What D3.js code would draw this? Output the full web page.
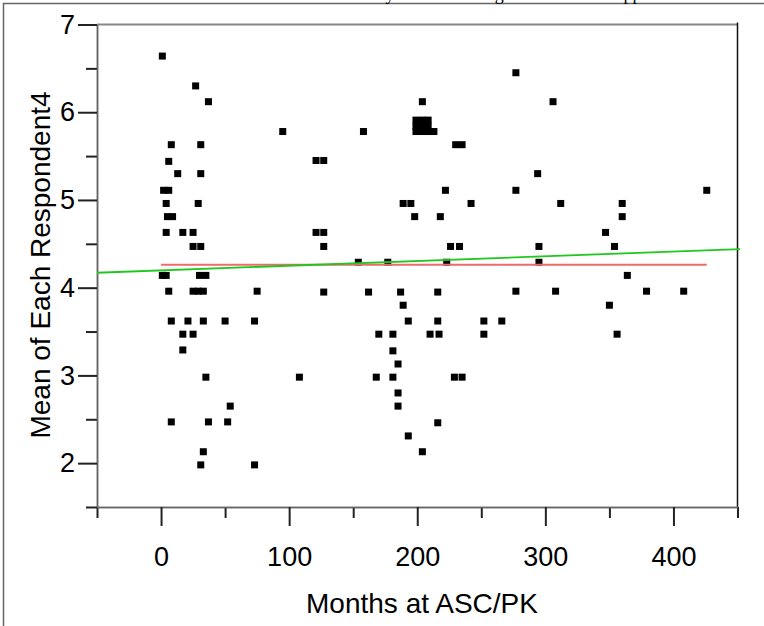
<!DOCTYPE html>
<html>
<head>
<meta charset="utf-8">
<script src="https://cdn.jsdelivr.net/npm/d3@7"></script>
<style>
  body { margin: 0; background: #fff; }
  svg { display: block; }
  text { font-family: "Liberation Sans", Arial, sans-serif; fill: #000; }
</style>
</head>
<body>
<svg id="chart" width="764" height="626"></svg>
<script>
// months at ASC/PK for each respondent
var months = [
    1, 27, 37, 95, 8, 31, 6, 13, 31, 2, 6, 4, 29, 5, 9, 4, 17, 25, 25, 31,
    1, 4, 30, 35, 6, 25, 29, 33, 75, 8, 21, 33, 50, 73, 17, 25, 17, 35, 54, 8,
    37, 52, 33, 31, 73,
    204, 199, 204, 208.5, 199, 204, 208.5, 199, 204, 208.5, 213, 158, 230, 235, 121, 127, 222, 189, 195, 242,
    198, 218, 121, 127, 127, 226, 233, 154, 177, 223, 127, 162, 187, 216, 189, 193, 216, 170, 181, 210,
    217, 181, 185, 108, 168, 181, 229, 235, 185, 185, 216, 193, 204,
    277, 306, 294, 277, 426, 312, 360, 360, 347, 295, 354, 295, 364, 277, 308, 379, 408, 350, 252, 266,
    252, 356
];
// mean of each respondent's answers
var respondentMeans = [
    6.64, 6.30, 6.12, 5.78, 5.63, 5.63, 5.44, 5.30, 5.30, 5.11, 5.11, 4.96, 4.96, 4.81, 4.81, 4.63, 4.63, 4.63, 4.47, 4.47,
    4.14, 4.14, 4.14, 4.14, 3.96, 3.96, 3.96, 3.96, 3.96, 3.62, 3.62, 3.62, 3.62, 3.62, 3.47, 3.47, 3.29, 2.98, 2.65, 2.47,
    2.47, 2.47, 2.13, 1.98, 1.98,
    6.12, 5.91, 5.91, 5.91, 5.84, 5.84, 5.84, 5.78, 5.78, 5.78, 5.78, 5.78, 5.63, 5.63, 5.45, 5.45, 5.11, 4.96, 4.96, 4.96,
    4.81, 4.81, 4.63, 4.63, 4.47, 4.47, 4.47, 4.29, 4.29, 4.29, 3.95, 3.95, 3.95, 3.95, 3.80, 3.62, 3.62, 3.47, 3.47, 3.47,
    3.47, 3.28, 3.13, 2.98, 2.98, 2.98, 2.98, 2.98, 2.80, 2.65, 2.46, 2.31, 2.13,
    6.45, 6.12, 5.30, 5.11, 5.11, 4.96, 4.96, 4.81, 4.63, 4.47, 4.47, 4.29, 4.14, 3.96, 3.96, 3.96, 3.96, 3.80, 3.62, 3.62,
    3.47, 3.47
];
var xTicks = [0, 100, 200, 300, 400];
var xMinorTicks = [-50, 50, 150, 250, 350, 450];
var yTicks = [2, 3, 4, 5, 6, 7];
var yMinorTicks = [1.5, 2.5, 3.5, 4.5, 5.5, 6.5];
// mean line (red) and linear fit (green)
var meanX = [0, 426];
var meanY = [4.26, 4.26];
var fitX = [-50, 452];
var fitY = [4.17, 4.44];

var svg = d3.select('#chart');

var x = d3.scaleLinear().domain([-50, 450]).range([97, 737.5]),
    y = d3.scaleLinear().domain([1.5, 7]).range([507, 24.5]);

// outer frame, runs off the right and bottom edge
svg.append('rect')
    .attr('x', 3.5).attr('y', 3.5)
    .attr('width', 800).attr('height', 700)
    .attr('fill', 'none')
    .attr('stroke', '#666')
    .attr('stroke-width', 1.5);

// title, only the descenders show above the frame
svg.append('text')
    .attr('x', 287).attr('y', 0)
    .style('font-family', '"Liberation Serif", "Times New Roman", serif')
    .style('font-size', '18px')
    .text('Satisfaction by Months at Organization and Support');

// top and right border of the plot
svg.append('line')
    .attr('x1', x(-50)).attr('x2', x(450))
    .attr('y1', y(7)).attr('y2', y(7))
    .attr('stroke', '#888').attr('stroke-width', 2);
svg.append('line')
    .attr('x1', x(450)).attr('x2', x(450))
    .attr('y1', y(7) - 2).attr('y2', y(1.5))
    .attr('stroke', '#111').attr('stroke-width', 1.5);

// axes
var gx = svg.append('g').attr('transform', 'translate(0,' + y(1.5) + ')');
gx.append('g').call(d3.axisBottom(x).tickValues(xMinorTicks).tickSize(11).tickSizeOuter(0).tickFormat(''));
gx.append('g').call(d3.axisBottom(x).tickValues(xTicks).tickSize(19).tickSizeOuter(0).tickPadding(21));

var gy = svg.append('g').attr('transform', 'translate(' + x(-50) + ',0)');
gy.append('g').call(d3.axisLeft(y).tickValues(yMinorTicks).tickSize(11).tickSizeOuter(0).tickFormat(''));
gy.append('g').call(d3.axisLeft(y).tickValues(yTicks).tickSize(19).tickSizeOuter(0).tickPadding(3).tickFormat(d3.format('d')));

svg.selectAll('.domain').attr('stroke', '#666').attr('stroke-width', 1.5);
svg.selectAll('.tick line').attr('stroke', '#222').attr('stroke-width', 2);
svg.selectAll('.tick text')
    .style('font-family', '"Liberation Sans", Arial, sans-serif')
    .style('font-size', '27px')
    .attr('fill', '#000');

// axis titles
svg.append('text')
    .attr('x', 422).attr('y', 613)
    .attr('text-anchor', 'middle')
    .style('font-size', '28px')
    .text('Months at ASC/PK');
svg.append('text')
    .attr('transform', 'translate(50,265) rotate(-90)')
    .attr('text-anchor', 'middle')
    .style('font-size', '28px')
    .text('Mean of Each Respondent4');

// points
var size = 7;
svg.append('g').selectAll('rect')
    .data(months).enter()
    .append('rect')
    .attr('x', function (d) { return x(d) - size / 2; })
    .attr('y', function (d, i) { return y(respondentMeans[i]) - size / 2; })
    .attr('width', size)
    .attr('height', size)
    .attr('fill', '#000');

// mean and fit lines
var line = d3.line()
    .x(function (d) { return x(d[0]); })
    .y(function (d) { return y(d[1]); });

svg.append('path')
    .datum(d3.zip(meanX, meanY))
    .attr('d', line)
    .attr('fill', 'none')
    .attr('stroke', '#ee6b6b')
    .attr('stroke-width', 2);

svg.append('path')
    .datum(d3.zip(fitX, fitY))
    .attr('d', line)
    .attr('fill', 'none')
    .attr('stroke', '#1ec81e')
    .attr('stroke-width', 1.8);
</script>
</body>
</html>
